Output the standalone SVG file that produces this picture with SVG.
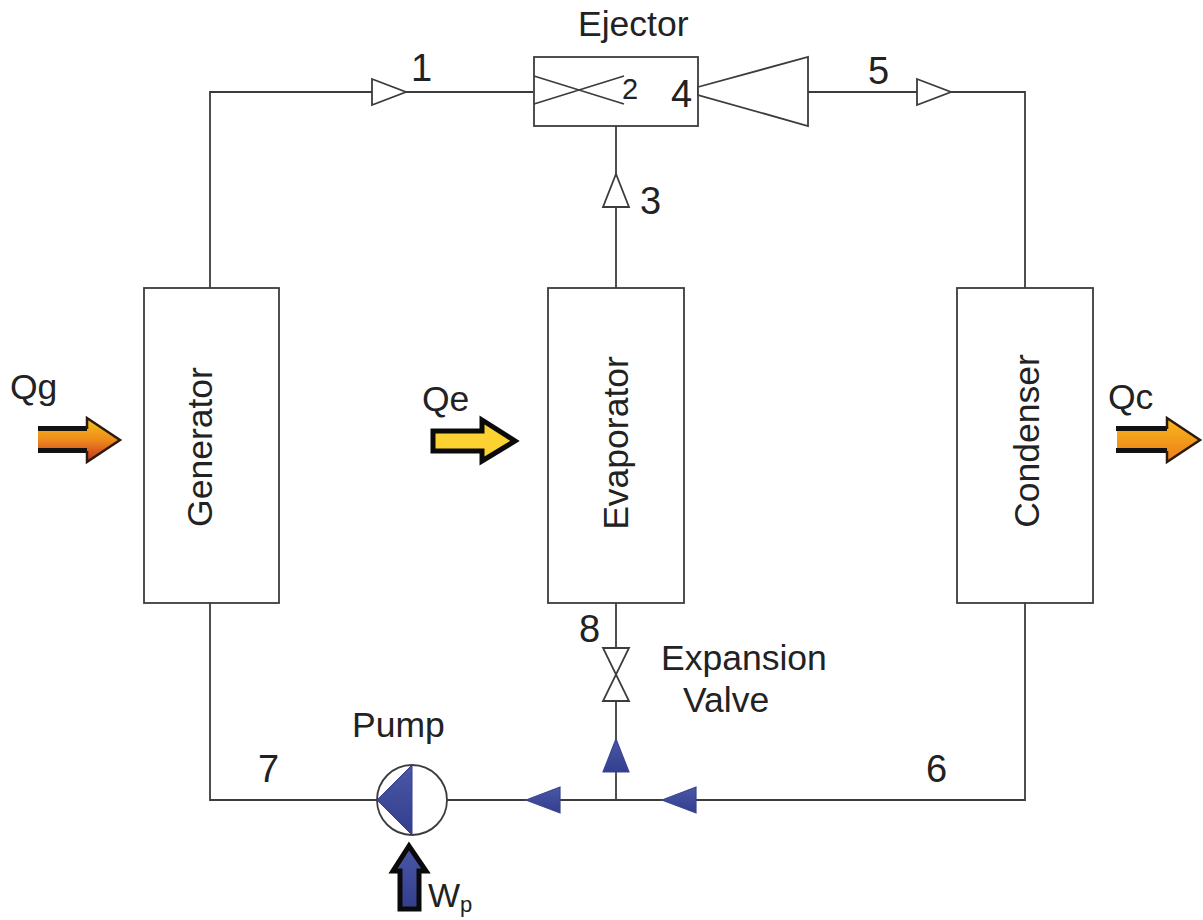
<svg xmlns="http://www.w3.org/2000/svg" width="1203" height="920" viewBox="0 0 1203 920">
<style>
.ln{fill:none;stroke:#3c3c3c;stroke-width:1.8}
.box{fill:#fff;stroke:#3c3c3c;stroke-width:1.8}
.tri{fill:#fff;stroke:#3c3c3c;stroke-width:1.8;stroke-linejoin:miter}
.blue{fill:url(#gb);stroke:#3b4590;stroke-width:1.2}
text{font-family:"Liberation Sans",Arial,sans-serif;fill:#222}
.lab{font-size:35.5px}
.num{font-size:38px}
.big{stroke:#0a0a0a;stroke-width:5;stroke-linejoin:miter}
</style>
<defs>
<linearGradient id="gb" x1="0" y1="0" x2="0" y2="1"><stop offset="0" stop-color="#4a57a6"/><stop offset="1" stop-color="#333f8e"/></linearGradient>
<linearGradient id="gg" x1="0" y1="0" x2="0" y2="1"><stop offset="0" stop-color="#f5c518"/><stop offset="0.5" stop-color="#ee8a1c"/><stop offset="1" stop-color="#c5301f"/></linearGradient>
<linearGradient id="gc" x1="0" y1="0" x2="0" y2="1"><stop offset="0" stop-color="#f9b81c"/><stop offset="1" stop-color="#ec7d1a"/></linearGradient>
</defs>
<g id="connectors">
<path class="ln" d="M210 288V92H533"/>
<path class="ln" d="M808 92H1025V288"/>
<path class="ln" d="M616 126V288"/>
<path class="ln" d="M210 603V800H378"/>
<path class="ln" d="M447 800H1025V603"/>
<path class="ln" d="M616 603V800"/>
<polygon class="tri" points="372,79 406,92 372,105"/>
<polygon class="tri" points="917,79 951,92 917,105"/>
<polygon class="tri" points="616,174 629,207 603,207"/>
<polygon class="blue" points="526,800 560,787 560,813"/>
<polygon class="blue" points="662,800 696,787 696,813"/>
<polygon class="blue" points="616,739 629,772 603,772"/>
</g>
<g id="ejector">
<rect class="box" x="534" y="57" width="164" height="69"/>
<path class="ln" d="M534 76L624 104M534 104L624 76"/>
<polygon class="tri" points="698,87 808,57 808,126 698,95"/>
<text x="578" y="36" class="lab">Ejector</text>
<text x="622" y="99" font-size="29">2</text>
<text x="671" y="107" class="num">4</text>
</g>
<g id="generator"><rect class="box" x="144" y="288" width="135" height="315"/><text transform="translate(212 447) rotate(-90)" text-anchor="middle" class="lab">Generator</text></g>
<g id="evaporator"><rect class="box" x="548" y="288" width="136" height="315"/><text transform="translate(628 443) rotate(-90)" text-anchor="middle" class="lab">Evaporator</text></g>
<g id="condenser"><rect class="box" x="957" y="288" width="136" height="315"/><text transform="translate(1039 441) rotate(-90)" text-anchor="middle" class="lab">Condenser</text></g>
<g id="valve">
<polygon class="tri" points="603,648 629,648 603,701 629,701"/>
<text x="661" y="670" class="lab">Expansion</text>
<text x="683" y="712" class="lab">Valve</text>
</g>
<g id="pump">
<circle cx="412" cy="800" r="35" fill="#fff" stroke="#3c3c3c" stroke-width="1.8"/>
<polygon points="377,800 412,765 412,835" fill="url(#gb)" stroke="#333f8e"/>
<text x="352" y="737" class="lab">Pump</text>
<polygon class="big" points="400,909 400,871 393,871 409,846 426,871 419,871 419,909" fill="url(#gb)"/>
<text x="428" y="907" font-size="34">W<tspan font-size="22" dy="5">p</tspan></text>
</g>
<g id="qg">
<text x="10" y="399" class="lab">Qg</text>
<polygon points="38,429 87,429 87,418 120,440 87,462 87,451 38,451" fill="url(#gg)"/>
<path d="M38 428.500H87M38 450.500H87" fill="none" stroke="#111" stroke-width="5"/>
<path d="M87 429V418L120 440L87 462V451" fill="none" stroke="#2a1a10" stroke-width="2.500"/>
</g>
<g id="qe">
<text x="422" y="411" class="lab">Qe</text>
<polygon class="big" points="433,431 482,431 482,420 515,441 482,461 482,451 433,451" fill="#fbd231"/>
</g>
<g id="qc">
<text x="1108" y="409" class="lab">Qc</text>
<polygon points="1117,429 1167,429 1167,418 1200,440 1167,462 1167,451 1117,451" fill="url(#gc)"/>
<path d="M1116 428.500H1167M1116 450.500H1167" fill="none" stroke="#111" stroke-width="5"/>
<path d="M1167 429V418L1200 440L1167 462V451" fill="none" stroke="#2a1a10" stroke-width="2.500"/>
</g>
<g id="labels">
<text x="411" y="81" class="num">1</text>
<text x="640" y="214" class="num">3</text>
<text x="868" y="84" class="num">5</text>
<text x="926" y="782" class="num">6</text>
<text x="258" y="782" class="num">7</text>
<text x="579" y="642" class="num">8</text>
</g>
</svg>
